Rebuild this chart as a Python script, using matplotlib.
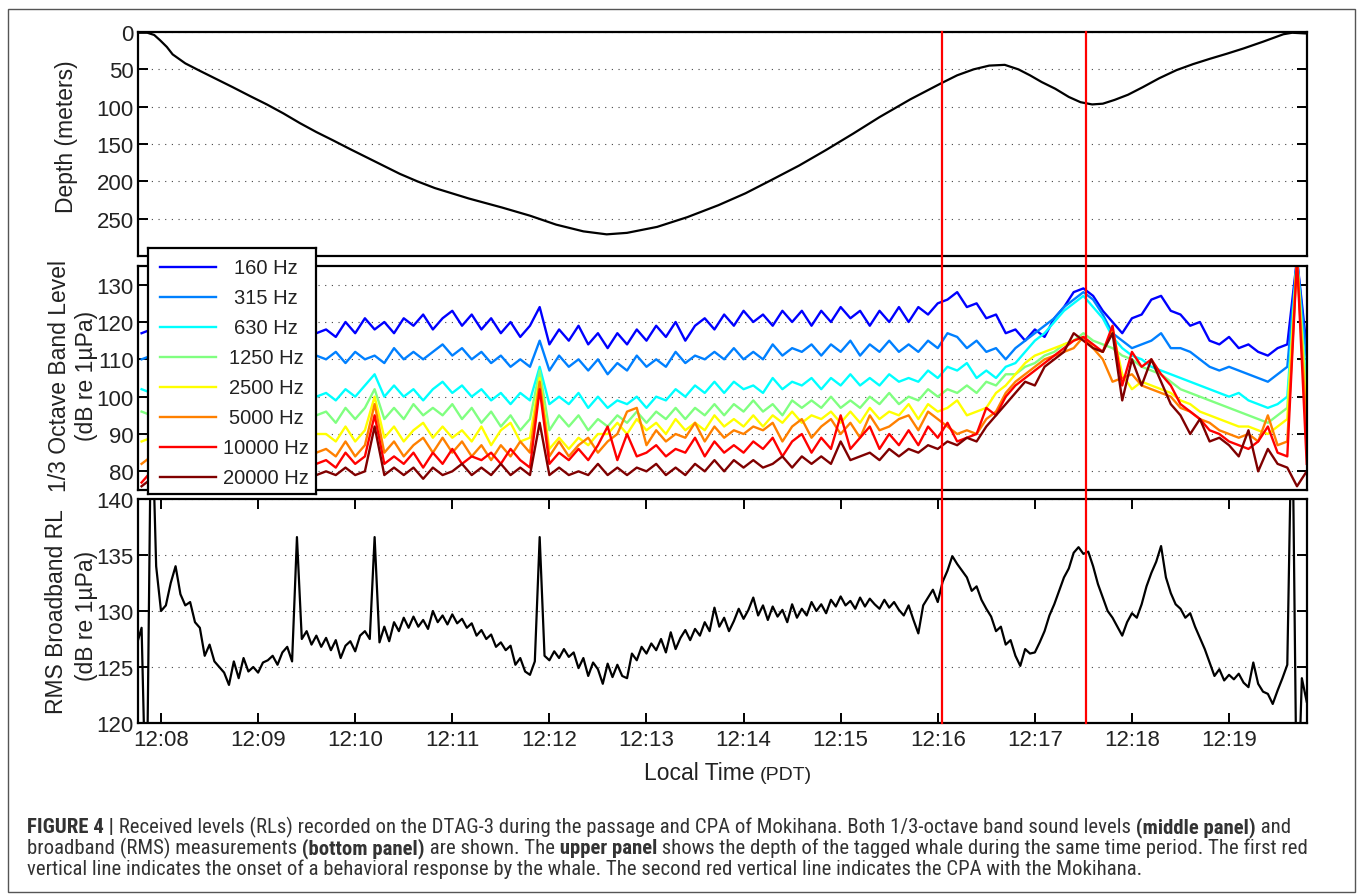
import numpy as np
import matplotlib
matplotlib.use('Agg')
import matplotlib.pyplot as plt
from matplotlib.ticker import FuncFormatter
from matplotlib.lines import Line2D
from matplotlib.patches import Rectangle
from matplotlib import font_manager, transforms

# --- data (time in minutes after 12:00 PDT) ---
t_left, t_right = 7.763, 19.803
minute_ticks = list(range(8, 20))
event_times = [16.043, 17.526]   # response onset, CPA

depth_time = [7.76, 7.86, 7.93, 7.99, 8.06, 8.12, 8.25, 8.40, 8.57, 8.74,
              8.92, 9.09, 9.26, 9.43, 9.60, 9.77, 9.95, 10.12, 10.29, 10.46,
              10.64, 10.82, 11.17, 11.51, 11.80, 12.07, 12.35, 12.59, 12.80, 13.11,
              13.42, 13.74, 14.02, 14.29, 14.57, 14.85, 15.13, 15.40, 15.72, 16.03,
              16.20, 16.37, 16.53, 16.69, 16.83, 16.95, 17.07, 17.21, 17.35, 17.47,
              17.59, 17.70, 17.82, 17.96, 18.11, 18.28, 18.46, 18.63, 18.80, 18.98,
              19.15, 19.35, 19.56, 19.65, 19.80]
depth_m = [1, 1, 4, 11, 20, 30, 42, 52, 63, 74,
           86, 97, 109, 122, 134, 145, 157, 168, 179, 190,
           200, 209, 223, 235, 246, 258, 267, 271, 269, 261,
           248, 232, 216, 198, 179, 158, 136, 114, 90, 69,
           58, 50, 45, 44, 50, 58, 67, 76, 87, 94,
           97, 96, 91, 84, 74, 62, 51, 43, 36, 29,
           22, 13, 3, 1, 2]

# 1/3 octave band levels, one value every 0.1 min starting 12:07:48
band_t0, band_dt = 7.8, 0.1
band_labels = ['160 Hz', '315 Hz', '630 Hz', '1250 Hz',
               '2500 Hz', '5000 Hz', '10000 Hz', '20000 Hz']
band_colors = ['#0000ff', '#0080ff', '#00ffff', '#80ff80',
               '#ffff00', '#ff8000', '#ff0000', '#800000']

bl_160 = [117, 118, 119, 118, 119, 118, 120, 119, 118, 119,
          120, 119, 118, 119, 120, 118, 119, 118, 117, 118,
          116, 120, 117, 121, 118, 120, 117, 121, 119, 122,
          118, 121, 123, 119, 122, 118, 121, 117, 120, 116,
          119, 124, 114, 118, 115, 119, 114, 117, 113, 117,
          114, 118, 115, 119, 116, 120, 115, 119, 121, 118,
          122, 119, 123, 120, 122, 119, 123, 120, 123, 119,
          123, 120, 124, 121, 123, 119, 123, 120, 124, 120,
          124, 122, 125, 126, 128, 124, 125, 121, 122, 117,
          118, 115, 118, 116, 121, 124, 128, 129, 127, 123,
          120, 117, 121, 122, 126, 127, 123, 122, 119, 120,
          115, 114, 116, 113, 114, 112, 111, 113, 114, 137,
          113]
bl_315 = [110, 111, 110, 111, 112, 111, 110, 111, 112, 111,
          110, 111, 112, 110, 111, 112, 111, 110, 111, 110,
          112, 109, 112, 110, 111, 109, 113, 110, 112, 110,
          112, 114, 111, 113, 110, 112, 109, 111, 108, 110,
          108, 115, 107, 111, 108, 110, 107, 110, 106, 109,
          107, 111, 108, 110, 108, 112, 109, 111, 110, 112,
          110, 113, 110, 112, 110, 114, 111, 113, 112, 114,
          111, 114, 112, 115, 111, 114, 112, 115, 112, 114,
          112, 115, 113, 117, 116, 113, 115, 112, 113, 110,
          113, 115, 117, 119, 121, 124, 126, 128, 126, 122,
          117, 115, 113, 114, 115, 117, 113, 113, 112, 110,
          108, 107, 108, 107, 106, 105, 104, 106, 108, 137,
          110]
bl_630 = [102, 101, 102, 100, 101, 102, 101, 100, 101, 102,
          101, 100, 102, 101, 100, 101, 102, 101, 100, 101,
          99, 102, 100, 103, 106, 100, 103, 100, 102, 99,
          102, 104, 101, 103, 100, 102, 99, 101, 98, 101,
          99, 108, 98, 100, 98, 101, 97, 100, 97, 99,
          98, 100, 97, 100, 99, 102, 100, 103, 101, 104,
          101, 104, 102, 103, 101, 105, 102, 104, 103, 105,
          102, 105, 103, 106, 103, 105, 103, 106, 104, 105,
          104, 107, 105, 108, 107, 109, 105, 107, 105, 108,
          109, 112, 115, 117, 120, 123, 125, 127, 124, 121,
          116, 113, 111, 110, 108, 107, 106, 105, 104, 103,
          102, 101, 100, 101, 99, 98, 97, 98, 100, 137,
          102]
bl_1250 = [96, 95, 96, 97, 95, 96, 97, 96, 95, 96,
           97, 96, 95, 97, 96, 95, 96, 97, 95, 96,
           93, 97, 94, 97, 102, 94, 97, 94, 98, 95,
           97, 95, 98, 94, 97, 93, 96, 92, 95, 91,
           94, 107, 91, 95, 92, 95, 91, 94, 92, 95,
           93, 96, 93, 96, 94, 97, 94, 97, 95, 98,
           95, 98, 96, 99, 96, 98, 95, 99, 97, 99,
           97, 100, 97, 99, 97, 100, 98, 101, 98, 100,
           99, 102, 100, 102, 101, 103, 101, 104, 103, 106,
           106, 108, 109, 111, 112, 114, 115, 117, 115, 114,
           113, 111, 110, 108, 107, 106, 104, 102, 101, 100,
           99, 98, 97, 96, 95, 94, 93, 95, 97, 137,
           99]
bl_2500 = [88, 89, 90, 89, 91, 90, 89, 90, 91, 90,
           89, 91, 90, 89, 90, 91, 90, 89, 90, 90,
           88, 92, 88, 91, 100, 89, 92, 88, 91, 93,
           89, 92, 89, 91, 88, 92, 87, 91, 93, 88,
           89, 105, 86, 89, 86, 89, 87, 90, 90, 93,
           90, 94, 91, 93, 90, 94, 91, 93, 91, 95,
           92, 94, 92, 95, 92, 95, 93, 96, 93, 95,
           94, 96, 93, 96, 93, 97, 94, 96, 95, 98,
           94, 98, 96, 97, 99, 95, 96, 97, 101, 103,
           106, 109, 111, 112, 113, 114, 115, 116, 113, 112,
           118, 106, 102, 104, 103, 102, 101, 99, 98, 96,
           95, 94, 93, 92, 92, 91, 90, 92, 94, 137,
           94]
bl_5000 = [82, 84, 85, 86, 85, 87, 86, 85, 86, 87,
           86, 85, 87, 86, 85, 86, 87, 86, 85, 86,
           84, 88, 84, 87, 98, 85, 88, 84, 87, 89,
           85, 89, 85, 88, 84, 87, 83, 87, 84, 88,
           85, 104, 84, 88, 84, 87, 89, 85, 88, 90,
           96, 97, 87, 91, 88, 90, 89, 93, 88, 92,
           89, 91, 90, 92, 91, 93, 88, 92, 94, 89,
           92, 94, 90, 93, 89, 95, 91, 92, 94, 95,
           91, 96, 94, 92, 90, 91, 90, 94, 96, 101,
           104, 106, 108, 110, 111, 112, 113, 116, 113, 110,
           104, 105, 106, 103, 102, 101, 100, 97, 96, 94,
           93, 91, 90, 89, 90, 88, 95, 87, 88, 137,
           90]
bl_10000 = [77, 80, 82, 83, 82, 84, 83, 82, 83, 84,
            83, 82, 84, 83, 82, 83, 84, 83, 82, 83,
            81, 85, 82, 84, 95, 82, 84, 82, 85, 81,
            85, 82, 86, 82, 84, 83, 85, 82, 86, 83,
            81, 102, 82, 85, 83, 86, 83, 87, 92, 83,
            90, 84, 85, 87, 84, 86, 85, 89, 84, 88,
            85, 87, 85, 88, 86, 89, 84, 88, 90, 85,
            89, 86, 95, 86, 89, 92, 86, 90, 87, 91,
            87, 92, 89, 93, 88, 89, 90, 97, 95, 100,
            103, 105, 107, 109, 111, 113, 115, 116, 114, 112,
            119, 103, 112, 108, 110, 106, 103, 98, 96, 94,
            91, 90, 88, 87, 86, 88, 92, 85, 84, 137,
            82]
bl_20000 = [76, 78, 80, 79, 81, 80, 79, 80, 81, 80,
            79, 80, 81, 80, 79, 80, 81, 80, 79, 80,
            79, 81, 79, 80, 92, 79, 81, 79, 81, 78,
            81, 79, 80, 82, 79, 81, 79, 82, 79, 81,
            79, 93, 79, 81, 79, 80, 79, 82, 79, 81,
            79, 81, 80, 82, 79, 81, 79, 82, 80, 83,
            80, 83, 81, 83, 81, 82, 84, 81, 84, 82,
            84, 82, 88, 83, 84, 85, 83, 86, 84, 86,
            85, 87, 86, 88, 87, 89, 88, 92, 95, 98,
            101, 104, 103, 108, 110, 112, 117, 115, 113, 112,
            117, 99, 110, 103, 110, 104, 98, 95, 90, 94,
            88, 89, 87, 84, 91, 80, 86, 82, 81, 76,
            80]
band_levels = [bl_160, bl_315, bl_630, bl_1250, bl_2500, bl_5000, bl_10000, bl_20000]

# RMS broadband received level, one value every 0.05 min starting 12:07:45
rms_t0, rms_dt = 7.75, 0.05
rms_level = [127.0, 128.5, 110, 150, 134, 130, 130.5, 132.5, 134, 131.5, 130.5, 130.8, 129, 128.5, 126, 127, 125.5, 125, 124.5, 123.4,
             125.5, 124, 125.8, 124.6, 125, 124.5, 125.4, 125.6, 126, 125.2, 126.3, 126.8, 125.5, 136.6, 127.5, 128.2, 127, 127.8, 126.8, 127.6,
             126.5, 127.4, 125.8, 126.9, 127.3, 126.4, 127.8, 128.2, 127.5, 136.6, 127.2, 128.6, 127.3, 129, 128.2, 129.4, 128.5, 129.5, 128.6, 129.2,
             128.4, 130, 129, 129.6, 128.8, 129.7, 128.9, 129.3, 128.5, 128.9, 127.8, 128.3, 127.5, 127.9, 126.8, 127.2, 126.5, 126.9, 125.2, 125.8,
             124.6, 124.3, 125.5, 136.6, 126, 125.6, 126.4, 125.8, 126.6, 125.9, 126.3, 124.9, 125.8, 124.2, 125.4, 124.8, 123.5, 125.3, 124.1, 125.2,
             124.2, 124, 126.2, 125.6, 126.8, 126.2, 127.1, 126.5, 127.5, 126.3, 128.1, 126.6, 127.6, 128.3, 127.4, 128.4, 127.8, 129, 128.2, 130.3,
             128.6, 129.4, 128.2, 129.1, 130.2, 129.3, 130.1, 131.2, 129.6, 130.5, 129.2, 130.4, 129.5, 130.1, 129, 130.6, 129.4, 130.2, 129.6, 130.8,
             130, 130.6, 129.8, 131, 130.4, 131.3, 130.5, 130.9, 130.2, 131.2, 130.4, 131.1, 130.6, 130.2, 131, 130.3, 130.8, 130.1, 129.6, 130.5,
             129.2, 128, 130.5, 131.2, 131.9, 130.8, 132.6, 133.6, 134.9, 134.2, 133.6, 133, 131.8, 132.2, 131, 130.2, 129.5, 128.2, 128.6, 127,
             127.4, 126, 125.1, 126.6, 126.2, 126.3, 127.2, 128.2, 129.6, 130.6, 131.8, 133, 133.8, 135.2, 135.7, 135.1, 135.3, 134, 132.4, 131.2,
             130, 129.4, 128.6, 127.8, 129, 129.8, 129.4, 130.6, 132.2, 133.4, 134.4, 135.8, 133, 131.6, 130.6, 130.2, 129.4, 129.8, 128.6, 127.6,
             126.6, 125.4, 124.2, 124.8, 123.8, 124.3, 123.9, 124.4, 123.6, 123.2, 125.4, 123.5, 122.8, 122.6, 121.7, 122.9, 124, 125.2, 150, 110,
             124, 121.9]

caption_lines = [
    [('FIGURE 4 |', 'bold'),
     (' Received levels (RLs) recorded on the DTAG-3 during the passage and CPA of Mokihana. '
      'Both 1/3-octave band sound levels', 'normal'),
     (' (middle panel)', 'bold'), (' and', 'normal')],
    [('broadband (RMS) measurements', 'normal'), (' (bottom panel)', 'bold'),
     (' are shown. The', 'normal'), (' upper panel', 'bold'),
     (' shows the depth of the tagged whale during the same time period. The first red', 'normal')],
    [('vertical line indicates the onset of a behavioral response by the whale. '
      'The second red vertical line indicates the CPA with the Mokihana.', 'normal')],
]

# --- layout helpers (pixel positions of the 1357x895 canvas) ---
W, H = 1357, 895


def fx(px):
    return px / W


def fy(py):
    return 1 - py / H


def has_font(name):
    try:
        font_manager.findfont(font_manager.FontProperties(family=name), fallback_to_default=False)
        return True
    except ValueError:
        return False


plt.rcParams['font.family'] = ['Liberation Sans', 'DejaVu Sans']
cap_family = 'Liberation Sans'
for name in ['Liberation Sans Narrow', 'Roboto Condensed', 'DejaVu Sans Condensed', 'Roboto']:
    if has_font(name):
        cap_family = name
        break
txt_col = '#222222'

fig = plt.figure(figsize=(W / 100, H / 100), dpi=100)
fig.patch.set_facecolor('white')

left, right = 138, 1307
ax_d = fig.add_axes([fx(left), fy(257), fx(right) - fx(left), fy(33) - fy(257)])
ax_b = fig.add_axes([fx(left), fy(491), fx(right) - fx(left), fy(267) - fy(491)])
ax_r = fig.add_axes([fx(left), fy(724), fx(right) - fx(left), fy(500) - fy(724)])


def style(ax, yticks, ylim, xlabels):
    ax.set_xlim(t_left, t_right)
    ax.set_ylim(*ylim)
    ax.set_yticks(yticks)
    ax.set_xticks(minute_ticks)
    ax.set_axisbelow(True)
    ax.yaxis.grid(True, linestyle=(0, (1, 5)), color='#444444', lw=0.8)
    ax.tick_params(axis='y', direction='in', length=7, width=1.4, labelsize=16,
                   labelcolor=txt_col, right=True, pad=3)
    ax.tick_params(axis='x', direction='in', length=7, width=1.4, labelsize=16,
                   labelcolor=txt_col, top=xlabels, bottom=xlabels,
                   labelbottom=xlabels, pad=4)
    for s in ax.spines.values():
        s.set_linewidth(1.6)


# depth
ax_d.plot(depth_time, depth_m, color='black', lw=1.6)
style(ax_d, [0, 50, 100, 150, 200, 250], (300, 0), False)

# 1/3 octave bands
for levels, col in zip(band_levels, band_colors):
    tt = band_t0 + band_dt * np.arange(len(levels))
    ax_b.plot(tt, levels, color=col, lw=1.7)
style(ax_b, [80, 90, 100, 110, 120, 130], (75, 135), False)

# broadband RMS
rms_time = rms_t0 + rms_dt * np.arange(len(rms_level))
ax_r.plot(rms_time, rms_level, color='black', lw=1.6)
style(ax_r, [120, 125, 130, 135, 140], (120, 140), True)
ax_r.xaxis.set_major_formatter(FuncFormatter(lambda v, p: '12:%02d' % int(round(v))))

# red event lines across all three panels
trans = transforms.blended_transform_factory(ax_r.transData, fig.transFigure)
for ev in event_times:
    fig.add_artist(Line2D([ev, ev], [fy(724), fy(33)], transform=trans,
                          color='red', lw=1.6, zorder=5))

# legend box (centred labels, as in the original)
leg = fig.add_axes([fx(148), fy(495), fx(316) - fx(148), fy(249) - fy(495)], zorder=10)
leg.set_xlim(148, 316)
leg.set_ylim(495, 249)
leg.set_xticks([])
leg.set_yticks([])
for s in leg.spines.values():
    s.set_linewidth(1.6)
for i, (lab, col) in enumerate(zip(band_labels, band_colors)):
    yy = 268 + 30 * i
    leg.plot([160, 216], [yy, yy], color=col, lw=1.7)
    leg.text(266, yy, lab, ha='center', va='center', fontsize=14.5, color=txt_col)

# axis labels
fig.text(fx(67), fy(137), 'Depth (meters)', rotation=90, ha='center', va='center',
         fontsize=16.5, color=txt_col)
fig.text(fx(60), fy(376), '1/3 Octave Band Level', rotation=90, ha='center', va='center',
         fontsize=16.5, color=txt_col)
fig.text(fx(87), fy(376), '(dB re 1µPa)', rotation=90, ha='center', va='center',
         fontsize=16.5, color=txt_col)
fig.text(fx(57), fy(612), 'RMS Broadband RL', rotation=90, ha='center', va='center',
         fontsize=16.5, color=txt_col)
fig.text(fx(87), fy(616), '(dB re 1µPa)', rotation=90, ha='center', va='center',
         fontsize=16.5, color=txt_col)
fig.text(fx(755), fy(780), 'Local Time', ha='right', va='baseline', fontsize=16.5, color=txt_col)
fig.text(fx(760), fy(780), '(PDT)', ha='left', va='baseline', fontsize=14, color=txt_col)

# outer frame of the figure panel
fig.add_artist(Rectangle((fx(8), fy(893)), fx(1355) - fx(8), fy(10) - fy(893),
                         transform=fig.transFigure, fill=False, edgecolor='#555555', lw=1))

# caption with bold runs
renderer = fig.canvas.get_renderer()


def rich_line(segments, x_px, y_px, size):
    x = x_px
    made = []
    for txt, weight in segments:
        t = fig.text(fx(x), fy(y_px), txt, fontsize=size, fontweight=weight,
                     family=cap_family, color='#333333', ha='left', va='baseline')
        made.append(t)
        x = t.get_window_extent(renderer).x1
    return made, x


probe, x_end = rich_line(caption_lines[0], 27, 834, 14)
for t in probe:
    t.remove()
cap_size = 14 * (1293 - 27) / (x_end - 27)
for k, segs in enumerate(caption_lines):
    rich_line(segs, 27, 833 + 21 * k, cap_size)

fig.savefig('out.png', dpi=100)
